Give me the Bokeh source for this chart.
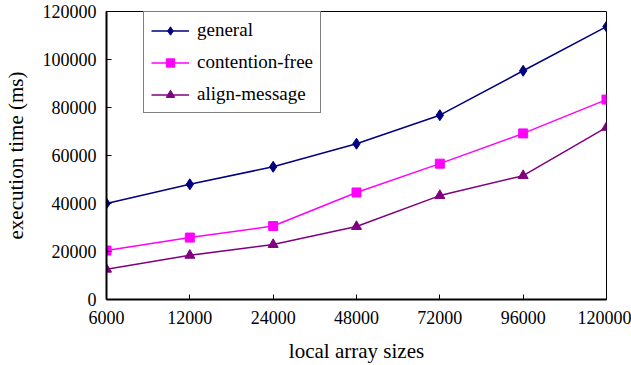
from bokeh.plotting import figure
from bokeh.models import Range1d, FixedTicker, BasicTickFormatter, Legend, LegendItem
from bokeh.embed import file_html
from bokeh.resources import INLINE

sizes = ["6000", "12000", "24000", "48000", "72000", "96000", "120000"]
general = [40000, 48000, 55300, 64900, 76800, 95300, 113700]
contention_free = [20400, 25800, 30600, 44600, 56600, 69200, 83300]
align_message = [12600, 18400, 22900, 30400, 43300, 51600, 71700]
y_ticks = [0, 20000, 40000, 60000, 80000, 100000, 120000]

FONT = "Liberation Serif"
xs = list(range(len(sizes)))

W, H = 631, 365
p = figure(width=W, height=H, output_backend="svg", toolbar_location=None,
           x_range=Range1d(0, len(sizes) - 1), y_range=Range1d(0, 120000),
           min_border_left=106, min_border_right=W - 606, min_border_top=11,
           min_border_bottom=H - 300)
p.background_fill_color = "white"
p.border_fill_color = "white"
p.outline_line_color = "black"
p.outline_line_width = 1
p.xgrid.visible = False
p.ygrid.visible = False

r1l = p.line(xs, general, line_color="#000080", line_width=1.5)
r1m = p.scatter(xs, general, marker="diamond", size=11, fill_color="#000080", line_color="#000080")
r2l = p.line(xs, contention_free, line_color="#FF00FF", line_width=1.5)
r2m = p.scatter(xs, contention_free, marker="square", size=9, fill_color="#FF00FF", line_color="#FF00FF")
r3l = p.line(xs, align_message, line_color="#800080", line_width=1.5)
r3m = p.scatter(xs, align_message, marker="triangle", size=10, fill_color="#800080", line_color="#800080")

for ax in (p.xaxis[0], p.yaxis[0]):
    ax.axis_line_width = 2
    ax.axis_line_color = "black"
    ax.major_tick_in = 5
    ax.major_tick_out = 0
    ax.minor_tick_in = 0
    ax.minor_tick_out = 0
    ax.major_tick_line_color = "black"
    ax.major_label_text_font = FONT
    ax.major_label_text_font_size = "18px"
    ax.major_label_text_color = "black"
    ax.axis_label_text_font = FONT
    ax.axis_label_text_font_size = "21px"
    ax.axis_label_text_font_style = "normal"
    ax.axis_label_text_color = "black"

p.xaxis.ticker = FixedTicker(ticks=xs)
p.xaxis.major_label_overrides = {i: s for i, s in enumerate(sizes)}
p.xaxis.axis_label = "local array sizes"
p.xaxis.major_label_standoff = 11
p.xaxis.axis_label_standoff = 12

p.yaxis.ticker = FixedTicker(ticks=y_ticks)
p.yaxis.formatter = BasicTickFormatter(use_scientific=False)
p.yaxis.axis_label = "execution time (ms)"
p.yaxis.major_label_standoff = 10
p.yaxis.axis_label_standoff = 12

legend = Legend(items=[
    LegendItem(label="general", renderers=[r1l, r1m]),
    LegendItem(label="contention-free", renderers=[r2l, r2m]),
    LegendItem(label="align-message", renderers=[r3l, r3m]),
], location=(37, 289 - 6 - 97))
legend.label_text_font = FONT
legend.label_text_font_size = "19px"
legend.label_text_color = "black"
legend.glyph_width = 38
legend.glyph_height = 21
legend.label_height = 21
legend.label_standoff = 8
legend.spacing = 10
legend.padding = 7
legend.margin = 0
legend.border_line_color = "black"
legend.border_line_width = 1
legend.background_fill_color = "white"
legend.background_fill_alpha = 1
p.add_layout(legend, "center")

open("out.html", "w").write(file_html(p, INLINE))
